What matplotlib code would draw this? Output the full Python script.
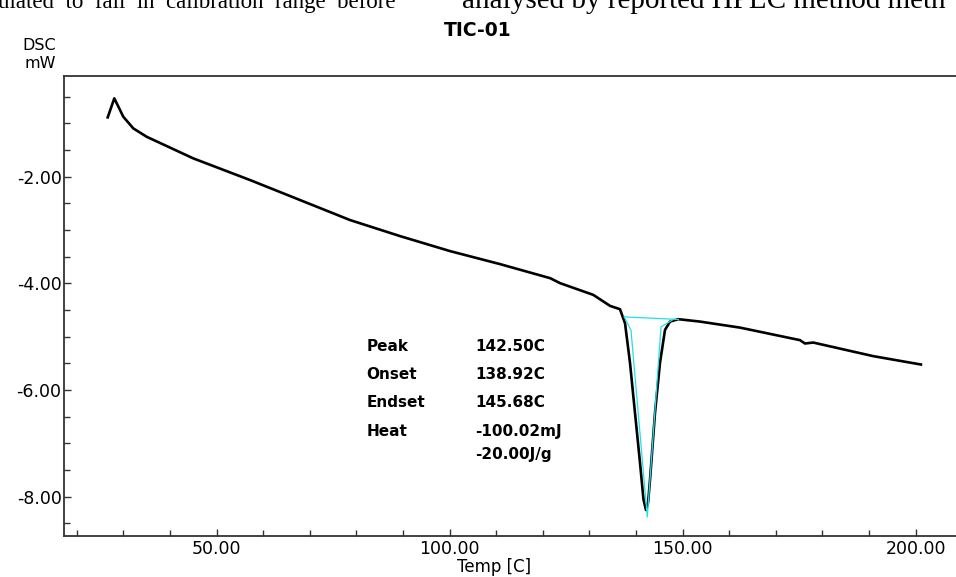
import matplotlib
matplotlib.use("Agg")
import matplotlib.pyplot as plt
from matplotlib.ticker import MultipleLocator, FixedLocator, FormatStrFormatter

# ---- data ----
temp = [26.65, 28.07, 30.0, 32.14, 35.02, 45.02, 57.22, 67.95, 78.67, 89.40,
        100.13, 110.85, 121.58, 123.72, 130.83, 134.42, 136.56, 137.64, 138.71,
        139.78, 140.86, 141.6, 142.14, 142.6, 143.0, 144.07, 145.14, 146.22,
        147.29, 149.07, 153.72, 162.30, 175.17, 176.24, 178.02, 190.89, 201.13]
dsc = [-0.886, -0.529, -0.874, -1.092, -1.25, -1.655, -2.062, -2.437, -2.812,
       -3.113, -3.394, -3.638, -3.901, -3.995, -4.214, -4.420, -4.483, -4.746,
       -5.490, -6.428, -7.366, -8.05, -8.248, -8.10, -7.685, -6.428, -5.490,
       -4.871, -4.715, -4.670, -4.715, -4.828, -5.063, -5.126, -5.108, -5.363,
       -5.520]

base_x = [137.48, 149.07]
base_y = [-4.627, -4.675]
tan_x = [137.48, 138.92, 142.42, 145.36, 148.0]
tan_y = [-4.627, -4.876, -8.379, -4.814, -4.675]

labels = ["Peak", "Onset", "Endset", "Heat", ""]
values = ["142.50C", "138.92C", "145.68C", "-100.02mJ", "-20.00J/g"]

xticks = [50, 100, 150, 200]
yticks = [-2, -4, -6, -8]

plt.rcParams['font.family'] = ['DejaVu Sans']

fig = plt.figure(figsize=(9.56, 5.77), dpi=100)
W, H = 956, 577
left, right, top, bottom = 64.3, 956, 76, 535.7
ax = fig.add_axes([left / W, 1 - bottom / H, (right - left) / W, (bottom - top) / H])

ax.plot(temp, dsc, color='black', lw=1.9, solid_joinstyle='round', zorder=3)
ax.plot(base_x, base_y, color='#22e0e8', lw=0.9, zorder=4)
ax.plot(tan_x, tan_y, color='#22e0e8', lw=0.9, zorder=4)

ax.set_xlim(17.34, 208.65)
ax.set_ylim(-8.73, -0.11)

ax.xaxis.set_major_locator(FixedLocator(xticks))
ax.xaxis.set_minor_locator(MultipleLocator(10))
ax.yaxis.set_major_locator(FixedLocator(yticks))
ax.yaxis.set_minor_locator(MultipleLocator(0.5))
ax.xaxis.set_major_formatter(FormatStrFormatter('%.2f'))
ax.yaxis.set_major_formatter(FormatStrFormatter('%.2f'))
ax.tick_params(which='both', direction='in', colors='#333333', labelcolor='black',
               labelsize=12.5, width=1)
ax.tick_params(which='major', length=5, pad=2)
ax.tick_params(which='minor', length=4)
ax.tick_params(axis='x', pad=3)
for s in ['left', 'bottom', 'top']:
    ax.spines[s].set_linewidth(1.3)
    ax.spines[s].set_color('#333333')
ax.spines['right'].set_visible(False)

# annotation block
ys = [0.4105, 0.3496, 0.2887, 0.2277, 0.1760]
for lab, val, yy in zip(labels, values, ys):
    if lab:
        ax.text(0.339, yy, lab, transform=ax.transAxes, fontsize=11,
                fontweight='bold', va='center', ha='left')
    ax.text(0.461, yy, val, transform=ax.transAxes, fontsize=11,
            fontweight='bold', va='center', ha='left')

fig.text(478 / W, 1 - 30 / H, "TIC-01", ha='center', va='center',
         fontsize=13.5, fontweight='bold')
fig.text(22 / W, 1 - 46 / H, "DSC", ha='left', va='center', fontsize=11.5)
fig.text(25 / W, 1 - 63 / H, "mW", ha='left', va='center', fontsize=11.5)
fig.text(494 / W, 1 - 567 / H, "Temp [C]", ha='center', va='center', fontsize=12)

# cropped document text at the very top
fig.text(-2 / W, 1 - 8 / H, "ulated  to  fall  in  calibration  range  before",
         ha='left', va='baseline', fontsize=16.5, family='Liberation Serif')
fig.text(462 / W, 1 - 8 / H, "analysed by reported HPLC method meth",
         ha='left', va='baseline', fontsize=21, family='Liberation Serif')

fig.savefig("out.png", dpi=100)
